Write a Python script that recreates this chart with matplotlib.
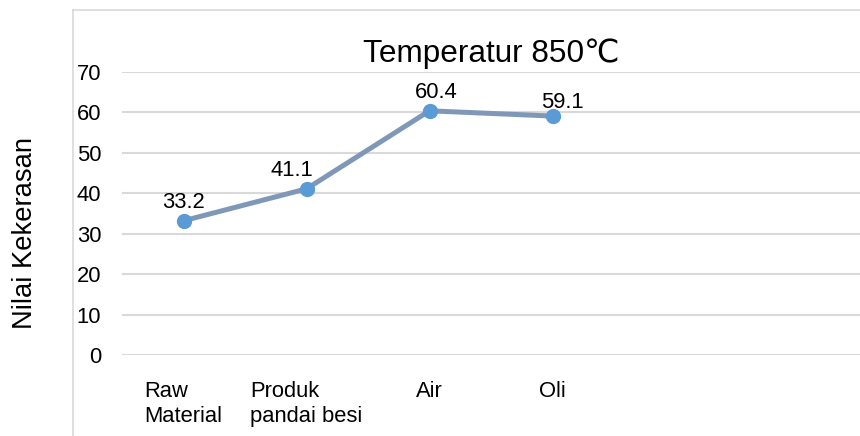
import matplotlib.pyplot as plt
from matplotlib.lines import Line2D

plt.rcParams['font.family'] = ['Liberation Sans', 'DejaVu Sans']

# data
categories = ["Raw\nMaterial", "Produk\npandai besi", "Air", "Oli", "", ""]
values = [33.2, 41.1, 60.4, 59.1]
yticks = [0, 10, 20, 30, 40, 50, 60, 70]

# label nudges in pixels (dx, dy), as in the original chart
label_offsets = [(0, 13), (-15, 13), (7, 13), (10, 8)]

fig = plt.figure(figsize=(8.6, 4.36), dpi=100)
ax = fig.add_axes([122 / 860, 81 / 436, 738 / 860, 283 / 436])

x = list(range(len(values)))
ax.plot(x, values, color="#7F98B8", linewidth=3.6, solid_capstyle="round",
        marker="o", markersize=10, markerfacecolor="#5B9BD5",
        markeredgecolor="#5B9BD5", zorder=3)

for xi, v, (dx, dy) in zip(x, values, label_offsets):
    ax.annotate(f"{v:.1f}", (xi, v), xytext=(dx * 0.72, dy * 0.72),
                textcoords="offset points", ha="center", va="baseline",
                fontsize=15.8, color="#000000")

ax.set_xlim(-0.5, len(categories) - 0.5)
ax.set_ylim(0, 70)
ax.set_yticks(yticks)
ax.set_xticks(range(len(categories)))
ax.set_xticklabels(categories, fontsize=15.8)
for lbl in ax.get_xticklabels():
    lbl.set_multialignment("left")
ax.tick_params(axis="x", length=0, pad=19)
ax.tick_params(axis="y", length=0, pad=15, labelsize=15.8)

ax.grid(axis="y", color="#D9D9D9", linewidth=1.5)
ax.set_axisbelow(True)
for s in ax.spines.values():
    s.set_visible(False)

ax.set_title("Temperatur 850℃", fontsize=22.7, pad=7)
fig.text(25 / 860, 1 - 233 / 436, "Nilai Kekerasan", rotation=90,
         ha="center", va="center", fontsize=19.7)

# chart area border (left and top edges visible)
fig.add_artist(Line2D([73 / 860, 73 / 860], [0, 1 - 10 / 436],
                      transform=fig.transFigure, color="#D9D9D9", linewidth=1.2))
fig.add_artist(Line2D([73 / 860, 1], [1 - 10 / 436, 1 - 10 / 436],
                      transform=fig.transFigure, color="#D9D9D9", linewidth=1.2))

fig.savefig("out.png", dpi=100)
